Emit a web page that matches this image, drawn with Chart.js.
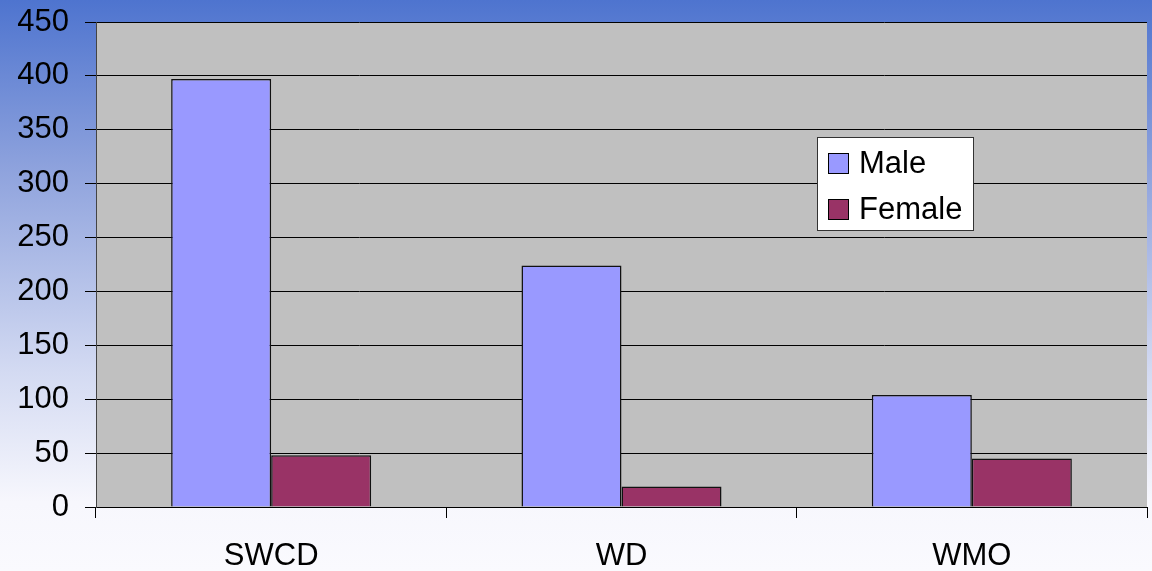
<!DOCTYPE html>
<html>
<head>
<meta charset="utf-8">
<script src="https://cdn.jsdelivr.net/npm/chart.js@4"></script>
<style>
  html, body { margin: 0; padding: 0; }
  body {
    width: 1152px; height: 571px; overflow: hidden;
    background: linear-gradient(to bottom, #4e74cf 0%, #8fa3dd 30%, #d3daf2 65%, #f7f7fd 88%, #fafafe 100%);
  }
  #wrap { position: relative; width: 1152px; height: 571px; }
</style>
</head>
<body>
<div id="wrap"><canvas id="myChart"></canvas></div>
<script>
const categories = ['SWCD', 'WD', 'WMO'];
const maleValues = [397, 224, 104];
const femaleValues = [48, 19, 45];
const yTicks = [0, 50, 100, 150, 200, 250, 300, 350, 400, 450];

const FONT = '"Liberation Sans", Arial, sans-serif';

// grey plot area
const plotBg = {
    id: 'plotBg',
    beforeDraw(chart) {
        const a = chart.chartArea;
        const c = chart.ctx;
        c.save();
        c.fillStyle = '#c0c0c0';
        c.fillRect(a.left, a.top, a.right - a.left, a.bottom - a.top);
        c.restore();
    }
};

// legend box inside the plot
const boxLegend = {
    id: 'boxLegend',
    afterDraw(chart) {
        const c = chart.ctx;
        const x = 817, y = 137, w = 156, h = 93;
        c.save();
        c.fillStyle = '#fff';
        c.fillRect(x, y, w, h);
        c.strokeStyle = '#333';
        c.lineWidth = 1;
        c.strokeRect(x + 0.5, y + 0.5, w, h);
        c.font = '31px ' + FONT;
        c.textBaseline = 'middle';
        chart.data.datasets.forEach((ds, i) => {
            const cy = y + 26 + i * 46;
            c.fillStyle = ds.backgroundColor;
            c.fillRect(x + 11, cy - 10, 20, 20);
            c.strokeStyle = '#000';
            c.strokeRect(x + 11.5, cy - 9.5, 20, 20);
            c.fillStyle = '#000';
            c.fillText(ds.label, x + 42, cy + 1);
        });
        c.restore();
    }
};

const ctx = document.getElementById('myChart').getContext('2d');
const chart = new Chart(ctx, {
    type: 'bar',
    data: {
        labels: categories,
        datasets: [{
            label: 'Male',
            data: maleValues,
            backgroundColor: '#9999ff',
            borderColor: '#111',
            borderWidth: 1.5,
            categoryPercentage: 0.571,
            barPercentage: 1
        }, {
            label: 'Female',
            data: femaleValues,
            backgroundColor: '#993366',
            borderColor: '#111',
            borderWidth: 1.5,
            categoryPercentage: 0.571,
            barPercentage: 1
        }]
    },
    options: {
        responsive: true,
        maintainAspectRatio: false,
        animation: false,
        layout: { padding: { top: 22, right: 5, left: 0, bottom: 0 } },
        plugins: {
            legend: { display: false },
            tooltip: { enabled: false }
        },
        scales: {
            x: {
                grid: {
                    offset: true,
                    drawOnChartArea: false,
                    drawTicks: true,
                    tickLength: 11,
                    color: '#000'
                },
                border: { display: true, color: '#000' },
                ticks: {
                    color: '#000',
                    padding: 20,
                    font: { family: FONT, size: 31 }
                },
                afterFit(scale) { scale.height = 64; }
            },
            y: {
                min: 0,
                max: 450,
                afterBuildTicks(scale) {
                    scale.ticks = yTicks.map(v => ({ value: v }));
                },
                grid: {
                    color: '#000',
                    tickLength: 11,
                    drawTicks: true
                },
                border: { display: true, color: '#444' },
                ticks: {
                    color: '#000',
                    padding: 16,
                    font: { family: FONT, size: 31 }
                },
                afterFit(scale) {
                    scale.width = 96;
                    scale.paddingTop = 0;
                    scale.paddingBottom = 0;
                }
            }
        }
    },
    plugins: [plotBg, boxLegend]
});
</script>
</body>
</html>
